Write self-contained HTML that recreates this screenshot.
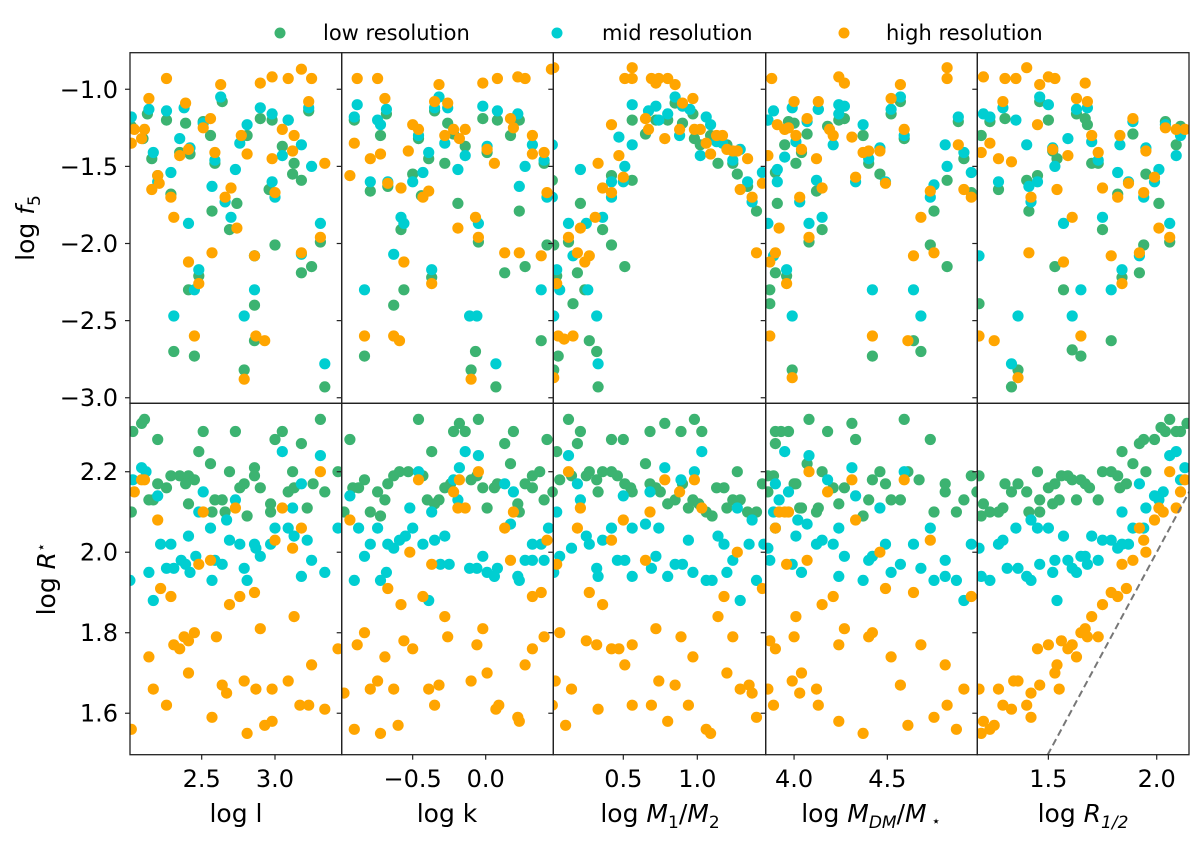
<!DOCTYPE html>
<html><head><meta charset="utf-8"><style>
html,body{margin:0;padding:0;background:#fff;}
svg{display:block;font-family:"DejaVu Sans","Liberation Sans",sans-serif;}
</style></head><body>
<svg id="fig" width="1200" height="842" viewBox="0 0 1200 842">
<g>
 <circle cx="280" cy="33" r="5.5" fill="#3cb371"/>
 <text x="323" y="40" font-size="21">low resolution</text>
 <circle cx="557" cy="33" r="5.5" fill="#00ced1"/>
 <text x="602" y="40" font-size="21">mid resolution</text>
 <circle cx="844" cy="33" r="5.5" fill="#ffa500"/>
 <text x="886" y="40" font-size="21">high resolution</text>
</g>
<text transform="translate(34,228) rotate(-90)" text-anchor="middle" font-size="25">log <tspan font-style="italic">f</tspan><tspan font-size="17" dy="6">5</tspan></text>
<text transform="translate(55,579) rotate(-90)" text-anchor="middle" font-size="25">log <tspan font-style="italic">R</tspan><tspan font-size="15" dy="-9">⋆</tspan></text>
<g id="plots"></g>
</svg>
<script>
// ---------- data (data units) ----------
const TOP_Y_TICKS = [-1.0, -1.5, -2.0, -2.5, -3.0];
const TOP_Y_LABELS = ["−1.0", "−1.5", "−2.0", "−2.5", "−3.0"];
const BOT_Y_TICKS = [1.6, 1.8, 2.0, 2.2];
const BOT_Y_LABELS = ["1.6", "1.8", "2.0", "2.2"];
const X_TICKS_1 = [2.5, 3.0];
const X_TICKS_2 = [-0.5, 0.0];
const X_TICKS_3 = [0.5, 1.0];
const X_TICKS_4 = [4.0, 4.5];
const X_TICKS_5 = [1.5, 2.0];
const X_TICK_LABELS_1 = ["2.5", "3.0"];
const X_TICK_LABELS_2 = ["−0.5", "0.0"];
const X_TICK_LABELS_3 = ["0.5", "1.0"];
const X_TICK_LABELS_4 = ["4.0", "4.5"];
const X_TICK_LABELS_5 = ["1.5", "2.0"];

const F5_L_LOW = [[2.13,-1.16],[2.26,-1.20],[2.39,-1.22],[2.64,-1.08],[2.51,-1.21],[2.56,-1.30],[2.90,-1.19],[2.98,-1.20],[3.09,-1.20],[3.23,-1.14],[2.81,-1.30],[2.02,-1.24],[2.10,-1.32],[2.16,-1.45],[2.35,-1.41],[2.42,-1.42],[2.59,-1.48],[3.05,-1.37],[3.13,-1.48],[3.12,-1.55],[3.18,-1.59],[2.20,-1.56],[2.29,-1.68],[2.96,-1.65],[2.57,-1.79],[2.69,-1.91],[2.74,-1.74],[3.00,-2.01],[2.41,-2.30],[2.48,-2.21],[2.86,-2.08],[3.18,-2.19],[3.25,-2.15],[3.31,-1.99],[2.31,-2.70],[2.45,-2.73],[2.86,-2.40],[2.86,-2.63],[2.79,-2.82],[3.34,-2.93]];
const F5_L_MID = [[2.14,-1.13],[2.26,-1.14],[2.38,-1.12],[2.63,-1.05],[2.90,-1.12],[2.98,-1.16],[3.09,-1.20],[3.23,-1.12],[2.81,-1.23],[2.51,-1.22],[2.02,-1.18],[2.17,-1.41],[2.35,-1.32],[2.42,-1.38],[2.59,-1.46],[2.76,-1.35],[3.05,-1.43],[3.18,-1.36],[3.25,-1.50],[2.29,-1.54],[2.20,-1.60],[2.57,-1.63],[2.73,-1.52],[2.98,-1.60],[3.00,-1.70],[2.66,-1.73],[2.70,-1.83],[2.41,-1.87],[2.48,-2.17],[2.45,-2.30],[2.86,-2.08],[3.18,-2.07],[3.31,-1.87],[2.31,-2.47],[2.86,-2.30],[2.79,-2.47],[3.34,-2.78]];
const F5_L_HIGH = [[2.26,-0.93],[2.14,-1.06],[2.39,-1.09],[2.63,-0.97],[2.90,-0.96],[2.98,-0.92],[3.09,-0.93],[3.18,-0.87],[3.25,-0.93],[3.23,-1.08],[2.56,-1.19],[2.51,-1.25],[2.04,-1.26],[2.11,-1.26],[2.09,-1.32],[2.02,-1.35],[2.77,-1.30],[2.81,-1.42],[2.35,-1.43],[2.41,-1.39],[2.59,-1.41],[2.98,-1.45],[3.05,-1.26],[3.13,-1.30],[3.12,-1.40],[3.34,-1.48],[2.20,-1.56],[2.21,-1.61],[2.16,-1.65],[2.29,-1.70],[2.70,-1.64],[2.66,-1.70],[3.00,-1.67],[2.31,-1.83],[2.74,-1.90],[2.57,-2.06],[2.41,-2.12],[2.48,-2.26],[2.86,-2.08],[3.18,-2.06],[3.31,-1.96],[2.45,-2.60],[2.87,-2.60],[2.93,-2.63],[2.79,-2.88]];

const F5_K_LOW = [[-0.90,-1.20],[-0.68,-1.16],[-0.72,-1.30],[-0.35,-1.14],[-0.26,-1.22],[-0.22,-1.29],[-0.14,-1.37],[-0.02,-1.19],[0.08,-1.20],[0.17,-1.30],[0.23,-1.20],[0.01,-1.41],[-0.39,-1.45],[-0.46,-1.32],[-0.50,-1.55],[-0.28,-1.48],[-0.79,-1.66],[-0.67,-1.63],[-0.44,-1.69],[-0.19,-1.74],[0.23,-1.79],[0.40,-1.48],[0.42,-2.01],[-0.05,-1.99],[-0.58,-1.91],[-0.56,-2.30],[-0.63,-2.40],[-0.37,-2.22],[0.13,-2.19],[0.27,-2.15],[-0.83,-2.73],[-0.07,-2.70],[-0.10,-2.82],[0.07,-2.93],[0.38,-2.63]];
const F5_K_MID = [[-0.88,-1.10],[-0.90,-1.18],[-0.74,-1.20],[-0.72,-1.23],[-0.68,-1.13],[-0.32,-1.05],[-0.35,-1.12],[-0.26,-1.12],[-0.02,-1.11],[0.08,-1.14],[0.22,-1.16],[0.01,-1.37],[-0.39,-1.41],[-0.46,-1.30],[-0.28,-1.35],[-0.14,-1.43],[0.32,-1.36],[0.27,-1.50],[0.23,-1.63],[0.40,-1.46],[-0.79,-1.60],[-0.67,-1.60],[-0.50,-1.60],[-0.43,-1.54],[-0.19,-1.52],[0.42,-1.70],[-0.58,-1.83],[-0.56,-1.87],[-0.05,-1.87],[-0.63,-2.07],[-0.37,-2.17],[-0.83,-2.30],[0.38,-2.30],[-0.11,-2.47],[-0.06,-2.47],[0.07,-2.78]];
const F5_K_HIGH = [[-0.88,-0.93],[-0.74,-0.93],[-0.69,-1.06],[-0.32,-0.97],[-0.02,-0.96],[0.08,-0.93],[0.22,-0.92],[0.27,-0.93],[-0.35,-1.08],[-0.26,-1.09],[-0.90,-1.35],[-0.79,-1.45],[-0.72,-1.42],[-0.50,-1.23],[-0.46,-1.26],[-0.28,-1.30],[-0.22,-1.26],[-0.18,-1.32],[-0.14,-1.26],[0.17,-1.19],[0.19,-1.25],[0.32,-1.30],[0.32,-1.42],[0.06,-1.48],[0.01,-1.39],[0.40,-1.41],[-0.53,-1.40],[-0.93,-1.56],[-0.67,-1.61],[-0.58,-1.64],[-0.39,-1.66],[-0.43,-1.70],[-0.07,-1.83],[-0.19,-1.90],[-0.05,-1.96],[0.13,-2.06],[0.23,-2.06],[0.38,-2.08],[0.42,-1.67],[-0.56,-2.12],[-0.37,-2.26],[-0.83,-2.60],[-0.63,-2.60],[-0.59,-2.63],[-0.10,-2.88],[0.45,-0.87]];

const F5_M_LOW = [[0.56,-1.20],[0.65,-1.29],[0.72,-1.20],[0.80,-1.20],[0.85,-1.09],[0.90,-1.22],[0.97,-1.16],[0.98,-1.32],[1.02,-1.36],[1.09,-1.30],[1.14,-1.48],[1.20,-1.36],[1.24,-1.48],[1.27,-1.55],[1.34,-1.63],[1.40,-1.79],[0.56,-1.59],[0.42,-1.56],[0.21,-1.74],[0.13,-1.99],[0.19,-2.19],[0.24,-2.30],[0.36,-1.91],[0.42,-2.01],[0.51,-2.15],[0.16,-2.39],[0.06,-2.73],[0.27,-2.63],[0.32,-2.70],[0.33,-2.93],[0.03,-2.82],[0.03,-2.01],[0.02,-1.59],[0.05,-2.21]];
const F5_M_MID = [[0.56,-1.10],[0.56,-1.36],[0.47,-1.31],[0.51,-1.50],[0.50,-1.60],[0.42,-1.60],[0.42,-1.70],[0.67,-1.14],[0.72,-1.11],[0.74,-1.20],[0.80,-1.16],[0.85,-1.05],[0.90,-1.11],[0.95,-1.13],[0.88,-1.30],[1.02,-1.43],[1.06,-1.18],[1.09,-1.23],[1.13,-1.34],[1.17,-1.35],[1.24,-1.46],[1.29,-1.39],[1.34,-1.60],[1.37,-1.73],[1.44,-1.54],[0.21,-1.52],[0.13,-1.87],[0.16,-2.08],[0.25,-1.87],[0.36,-1.83],[0.26,-2.30],[0.05,-2.17],[0.07,-2.30],[0.32,-2.47],[0.33,-2.78],[0.03,-2.47],[0.02,-1.36],[0.02,-1.70]];
const F5_M_HIGH = [[0.56,-0.86],[0.51,-0.93],[0.56,-0.93],[0.69,-0.93],[0.72,-0.96],[0.74,-0.93],[0.80,-0.93],[0.85,-0.97],[0.90,-1.09],[0.97,-1.06],[0.65,-1.19],[0.67,-1.26],[0.78,-1.32],[0.88,-1.26],[0.98,-1.26],[1.02,-1.26],[1.06,-1.35],[1.09,-1.42],[1.13,-1.30],[1.17,-1.30],[1.20,-1.39],[1.24,-1.40],[1.27,-1.40],[1.34,-1.45],[0.42,-1.23],[0.47,-1.43],[0.50,-1.57],[0.33,-1.48],[0.36,-1.64],[0.42,-1.67],[0.31,-1.83],[0.21,-1.90],[0.13,-1.96],[0.19,-2.06],[0.24,-2.12],[0.27,-2.08],[0.05,-2.26],[0.06,-2.60],[0.10,-2.62],[0.16,-2.60],[0.03,-2.87],[1.29,-1.65],[1.37,-1.70],[1.44,-1.61],[1.40,-2.06],[0.03,-0.86]];

const F5_D_LOW = [[3.86,-1.20],[3.97,-1.21],[4.00,-1.22],[4.07,-1.29],[4.13,-1.13],[4.18,-1.24],[4.24,-1.20],[4.27,-1.19],[4.37,-1.30],[4.52,-1.16],[4.57,-1.08],[4.59,-1.32],[3.95,-1.36],[4.01,-1.48],[4.04,-1.41],[4.40,-1.48],[4.46,-1.55],[4.12,-1.66],[3.91,-1.74],[3.90,-1.54],[4.15,-1.91],[4.08,-1.99],[3.90,-2.19],[3.96,-2.21],[3.87,-2.30],[3.87,-2.39],[3.99,-2.82],[4.42,-2.73],[4.64,-2.63],[4.68,-2.70],[4.73,-2.01],[4.75,-1.79],[4.82,-2.15],[4.82,-1.59],[4.88,-1.21],[4.91,-1.45],[4.95,-1.67]];
const F5_D_MID = [[3.89,-1.14],[3.86,-1.20],[3.99,-1.12],[4.07,-1.21],[4.13,-1.13],[4.24,-1.10],[4.27,-1.11],[4.24,-1.16],[4.37,-1.23],[4.52,-1.13],[4.57,-1.05],[4.59,-1.30],[3.95,-1.44],[4.01,-1.34],[4.21,-1.36],[3.91,-1.52],[3.91,-1.60],[4.12,-1.59],[4.03,-1.73],[4.08,-1.87],[4.15,-1.83],[4.33,-1.60],[4.40,-1.45],[4.46,-1.38],[4.49,-1.60],[3.86,-1.87],[3.89,-2.08],[3.96,-2.17],[3.99,-2.47],[4.42,-2.30],[4.64,-2.30],[4.68,-2.47],[4.73,-1.70],[4.75,-1.62],[4.82,-1.50],[4.81,-1.36],[4.88,-1.18],[4.91,-1.41],[4.95,-1.54]];
const F5_D_HIGH = [[3.88,-0.93],[4.24,-0.92],[4.27,-0.96],[4.57,-0.97],[4.82,-0.86],[4.82,-0.93],[4.00,-1.08],[4.13,-1.08],[4.52,-1.06],[3.91,-1.23],[3.95,-1.26],[3.97,-1.25],[4.01,-1.30],[4.04,-1.39],[4.07,-1.19],[4.12,-1.45],[4.19,-1.26],[4.21,-1.30],[4.31,-1.31],[4.37,-1.41],[4.40,-1.40],[4.46,-1.40],[4.59,-1.26],[3.86,-1.43],[4.33,-1.57],[4.49,-1.61],[4.03,-1.70],[4.15,-1.64],[3.92,-1.90],[4.08,-1.96],[3.90,-2.06],[3.87,-2.12],[3.96,-2.26],[4.68,-1.83],[4.73,-1.66],[4.75,-2.06],[4.64,-2.08],[4.88,-1.36],[4.91,-1.65],[4.95,-1.70],[3.87,-2.60],[4.42,-2.60],[4.61,-2.63],[3.99,-2.87]];

const F5_R_LOW = [[1.19,-1.30],[1.23,-1.21],[1.30,-1.19],[1.46,-1.08],[1.50,-1.20],[1.63,-1.16],[1.67,-1.19],[1.68,-1.23],[1.70,-1.48],[1.73,-1.48],[1.52,-1.40],[1.54,-1.45],[1.40,-1.59],[1.45,-1.56],[1.27,-1.65],[1.41,-1.79],[1.75,-1.91],[1.82,-1.68],[1.84,-2.22],[1.89,-1.29],[1.92,-2.19],[1.94,-2.01],[1.95,-1.55],[2.01,-1.74],[2.04,-1.21],[2.06,-1.99],[2.09,-1.36],[2.11,-1.24],[1.53,-2.15],[1.57,-2.30],[1.61,-2.69],[1.65,-2.73],[1.79,-2.63],[1.36,-2.82],[1.33,-2.93],[1.18,-2.39]];
const F5_R_MID = [[1.20,-1.16],[1.23,-1.18],[1.29,-1.12],[1.35,-1.20],[1.46,-1.05],[1.50,-1.10],[1.63,-1.13],[1.68,-1.12],[1.40,-1.36],[1.52,-1.38],[1.53,-1.50],[1.59,-1.32],[1.70,-1.34],[1.73,-1.46],[1.83,-1.36],[1.89,-1.21],[1.95,-1.38],[2.04,-1.23],[2.09,-1.43],[2.11,-1.30],[1.27,-1.60],[1.41,-1.63],[1.42,-1.73],[1.45,-1.60],[1.75,-1.83],[1.82,-1.54],[1.87,-1.60],[1.94,-1.70],[1.99,-1.60],[2.01,-1.52],[2.06,-1.87],[1.57,-1.87],[1.84,-2.17],[1.92,-2.08],[1.18,-2.08],[1.36,-2.47],[1.61,-2.47],[1.65,-2.30],[1.79,-2.30],[1.33,-2.78]];
const F5_R_HIGH = [[1.20,-0.92],[1.30,-0.93],[1.35,-0.93],[1.40,-0.86],[1.46,-0.97],[1.50,-0.92],[1.53,-0.93],[1.67,-0.96],[1.29,-1.08],[1.63,-1.06],[1.68,-1.08],[1.45,-1.23],[1.23,-1.35],[1.19,-1.41],[1.27,-1.45],[1.33,-1.47],[1.52,-1.39],[1.59,-1.43],[1.70,-1.30],[1.73,-1.41],[1.83,-1.30],[1.89,-1.19],[1.95,-1.40],[2.04,-1.25],[2.09,-1.26],[2.13,-1.26],[1.54,-1.65],[1.42,-1.70],[1.75,-1.64],[1.82,-1.70],[1.87,-1.61],[1.94,-1.67],[1.99,-1.57],[1.61,-1.83],[2.01,-1.90],[2.06,-1.96],[1.41,-2.06],[1.57,-2.12],[1.79,-2.08],[1.92,-2.06],[1.84,-2.26],[1.18,-2.60],[1.25,-2.63],[1.65,-2.60],[1.36,-2.87]];

const R_L_LOW = [[2.03,2.30],[2.09,2.32],[2.11,2.33],[2.20,2.28],[2.51,2.30],[2.73,2.30],[2.48,2.25],[2.56,2.22],[2.69,2.20],[3.00,2.28],[3.05,2.30],[3.18,2.27],[3.31,2.33],[3.12,2.20],[2.86,2.21],[2.86,2.19],[2.20,2.17],[2.26,2.16],[2.29,2.19],[2.35,2.19],[2.41,2.19],[2.45,2.18],[2.39,2.17],[2.14,2.13],[2.17,2.13],[2.41,2.12],[2.59,2.13],[2.64,2.13],[2.57,2.10],[2.66,2.10],[2.76,2.16],[2.79,2.17],[2.90,2.16],[2.81,2.09],[2.97,2.12],[2.97,2.10],[3.09,2.15],[3.13,2.16],[3.26,2.17],[3.34,2.15],[3.22,2.11],[2.02,2.10],[3.43,2.20]];
const R_L_MID = [[2.03,2.18],[2.09,2.21],[2.12,2.20],[2.20,2.14],[2.51,2.15],[2.73,2.13],[2.48,2.10],[2.67,2.08],[2.56,2.06],[2.41,2.04],[2.22,2.02],[2.29,2.02],[2.46,1.99],[2.36,1.98],[2.39,1.97],[2.42,1.95],[2.26,1.96],[2.31,1.96],[2.14,1.95],[2.17,1.88],[2.01,1.93],[2.57,1.93],[2.59,1.98],[2.64,1.97],[2.69,2.03],[2.76,2.02],[2.79,1.96],[2.81,1.93],[2.86,2.02],[2.87,2.01],[2.90,1.99],[2.97,2.02],[3.00,2.06],[3.09,2.06],[3.13,2.04],[3.12,2.11],[3.18,2.17],[3.22,2.03],[3.25,1.98],[3.18,1.94],[3.34,1.95],[3.05,2.25],[3.31,2.24],[3.43,2.06]];
const R_L_HIGH = [[2.04,2.15],[2.09,2.18],[2.11,2.18],[2.20,2.08],[2.51,2.10],[2.73,2.11],[2.48,1.97],[2.56,1.98],[3.00,2.03],[3.05,2.11],[3.18,2.06],[3.12,2.01],[3.31,2.20],[2.22,1.91],[2.29,1.89],[2.69,1.87],[2.76,1.89],[2.86,1.90],[2.45,1.80],[2.38,1.79],[2.41,1.78],[2.31,1.77],[2.35,1.76],[2.60,1.79],[2.90,1.81],[3.13,1.84],[2.14,1.74],[2.41,1.70],[2.17,1.66],[2.26,1.62],[2.57,1.59],[2.64,1.67],[2.67,1.65],[2.79,1.68],[2.87,1.66],[2.98,1.66],[3.09,1.68],[3.17,1.62],[3.23,1.62],[3.34,1.61],[3.25,1.72],[3.43,1.76],[2.02,1.56],[2.81,1.55],[2.93,1.57],[2.98,1.58]];

const R_K_LOW = [[-0.93,2.28],[-0.46,2.33],[-0.22,2.30],[-0.18,2.32],[-0.14,2.30],[-0.05,2.33],[0.19,2.30],[-0.37,2.25],[0.13,2.27],[0.17,2.22],[0.42,2.28],[0.37,2.20],[0.32,2.19],[-0.91,2.16],[-0.87,2.16],[-0.83,2.18],[-0.74,2.15],[-0.69,2.13],[-0.67,2.17],[-0.63,2.19],[-0.59,2.20],[-0.53,2.20],[-0.43,2.19],[-0.40,2.13],[-0.32,2.13],[-0.35,2.12],[-0.28,2.16],[-0.24,2.17],[-0.10,2.18],[-0.06,2.19],[-0.02,2.16],[0.06,2.16],[0.08,2.17],[0.01,2.11],[0.22,2.12],[0.23,2.10],[0.27,2.17],[0.32,2.16],[0.40,2.13],[-0.79,2.10],[-0.72,2.09],[-0.97,2.10],[0.46,2.15]];
const R_K_MID = [[-0.93,2.14],[-0.87,2.06],[-0.83,1.99],[-0.90,1.93],[-0.79,2.02],[-0.74,2.06],[-0.67,2.02],[-0.63,2.01],[-0.59,2.03],[-0.55,2.04],[-0.50,2.06],[-0.52,2.11],[-0.46,2.20],[-0.43,2.02],[-0.37,2.10],[-0.35,2.03],[-0.28,2.04],[-0.31,1.97],[-0.25,1.97],[-0.22,2.18],[-0.19,2.13],[-0.18,2.21],[-0.14,2.25],[-0.05,2.24],[-0.11,1.96],[-0.06,1.96],[-0.02,1.99],[0.01,1.95],[0.06,1.94],[0.08,1.96],[0.13,2.17],[0.19,2.15],[0.17,2.07],[0.22,1.94],[0.23,1.93],[0.27,1.98],[0.32,1.98],[0.32,2.02],[0.38,2.02],[0.40,1.98],[0.43,2.06],[-0.72,1.93],[-0.68,1.95],[-0.39,1.88]];
const R_K_HIGH = [[-0.93,2.08],[-0.46,2.18],[-0.22,2.15],[-0.18,2.18],[-0.19,2.11],[-0.14,2.11],[-0.05,2.20],[0.19,2.10],[0.13,2.06],[0.17,1.98],[0.42,2.03],[-0.52,2.00],[-0.37,1.97],[-0.67,1.91],[-0.58,1.87],[-0.43,1.89],[0.32,1.89],[0.38,1.90],[-0.28,1.84],[-0.02,1.81],[-0.83,1.80],[-0.88,1.77],[-0.56,1.78],[-0.50,1.76],[-0.26,1.79],[-0.06,1.77],[-0.69,1.74],[0.32,1.76],[0.27,1.72],[0.40,1.79],[-0.74,1.68],[-0.79,1.66],[-0.63,1.66],[-0.39,1.66],[-0.32,1.67],[-0.10,1.68],[0.01,1.70],[-0.35,1.62],[0.07,1.61],[0.09,1.62],[0.22,1.59],[0.23,1.58],[-0.90,1.56],[-0.72,1.55],[-0.60,1.57],[-0.97,1.65]];

const R_M_LOW = [[0.13,2.33],[0.21,2.30],[0.19,2.27],[0.05,2.25],[0.42,2.28],[0.50,2.28],[0.68,2.30],[0.78,2.32],[0.89,2.30],[0.98,2.33],[1.03,2.30],[0.65,2.22],[1.27,2.20],[0.07,2.18],[0.15,2.19],[0.25,2.19],[0.27,2.20],[0.36,2.20],[0.42,2.20],[0.46,2.19],[0.32,2.18],[0.33,2.15],[0.51,2.17],[0.55,2.16],[0.56,2.15],[0.68,2.17],[0.72,2.16],[0.75,2.15],[0.80,2.12],[0.85,2.13],[0.90,2.17],[0.97,2.13],[0.94,2.11],[1.01,2.12],[1.06,2.10],[1.10,2.09],[1.13,2.16],[1.18,2.16],[1.20,2.11],[1.24,2.13],[1.29,2.13],[1.34,2.10],[1.40,2.10],[1.44,2.17],[0.02,2.15]];
const R_M_MID = [[0.13,2.24],[0.19,2.17],[0.21,2.13],[0.05,2.10],[0.15,2.01],[0.07,1.99],[0.25,2.04],[0.27,2.02],[0.36,2.03],[0.42,2.06],[0.50,2.14],[0.56,2.06],[0.65,2.07],[0.74,2.06],[0.68,2.15],[0.78,2.21],[0.89,2.18],[0.98,2.20],[1.03,2.25],[0.94,2.03],[1.14,2.04],[1.18,2.02],[1.27,2.11],[1.37,2.08],[1.35,2.02],[1.45,2.02],[0.46,1.98],[0.51,1.98],[0.32,1.96],[0.33,1.94],[0.56,1.94],[0.69,1.96],[0.72,1.99],[0.80,1.94],[0.85,1.97],[0.90,1.97],[0.97,1.95],[1.06,1.93],[1.10,1.93],[1.20,1.95],[1.24,1.98],[1.29,1.88],[1.40,1.93],[0.03,1.95]];
const R_M_HIGH = [[0.13,2.20],[0.21,2.11],[0.19,2.06],[0.42,2.03],[0.50,2.08],[0.65,1.98],[0.68,2.10],[0.78,2.18],[0.88,2.15],[0.98,2.18],[1.03,2.11],[1.27,2.00],[0.05,1.97],[0.27,1.90],[0.36,1.87],[1.18,1.89],[1.14,1.84],[1.44,1.91],[0.72,1.81],[0.07,1.80],[0.25,1.78],[0.32,1.77],[0.42,1.76],[0.47,1.76],[0.56,1.77],[0.51,1.72],[0.89,1.79],[0.97,1.74],[1.24,1.79],[0.04,1.68],[0.15,1.66],[0.74,1.68],[0.85,1.67],[1.20,1.70],[1.29,1.66],[1.35,1.67],[1.37,1.65],[0.02,1.62],[0.33,1.61],[0.56,1.62],[0.69,1.62],[0.94,1.62],[0.11,1.57],[0.80,1.58],[1.06,1.56],[1.09,1.55],[1.40,1.59]];

const R_D_LOW = [[3.90,2.30],[3.93,2.30],[3.97,2.30],[4.08,2.33],[4.18,2.30],[4.31,2.32],[4.33,2.28],[4.59,2.33],[4.73,2.28],[3.90,2.27],[4.07,2.22],[4.15,2.20],[3.89,2.19],[3.86,2.19],[4.01,2.17],[4.00,2.17],[4.21,2.16],[4.27,2.16],[4.42,2.18],[4.46,2.20],[4.49,2.17],[4.61,2.20],[4.67,2.18],[4.81,2.17],[4.81,2.15],[4.95,2.19],[3.86,2.15],[4.03,2.11],[4.04,2.11],[4.12,2.10],[4.13,2.11],[4.24,2.12],[4.40,2.13],[4.52,2.13],[4.57,2.13],[4.37,2.09],[4.75,2.10],[4.87,2.10],[4.91,2.13],[4.98,2.15]];
const R_D_MID = [[3.95,2.25],[4.08,2.24],[3.90,2.17],[3.97,2.15],[3.92,2.13],[3.89,2.10],[3.90,2.06],[3.86,2.01],[4.02,2.08],[4.07,2.07],[4.01,2.04],[4.12,2.02],[4.15,2.03],[4.21,2.02],[4.24,2.06],[4.18,2.18],[4.31,2.21],[4.33,2.14],[4.46,2.11],[4.59,2.20],[4.49,2.02],[4.64,2.02],[4.73,2.06],[4.40,1.98],[4.42,1.99],[4.52,1.95],[4.57,1.97],[4.68,1.96],[4.75,1.93],[4.81,1.98],[4.81,1.94],[4.87,1.93],[4.91,1.88],[4.95,2.02],[3.87,1.98],[3.99,1.97],[4.04,1.95],[4.24,1.94],[4.27,1.99],[4.37,1.93]];
const R_D_HIGH = [[4.08,2.20],[4.31,2.18],[4.18,2.15],[4.59,2.18],[3.92,2.10],[3.95,2.10],[3.97,2.10],[3.90,2.06],[4.33,2.08],[4.73,2.03],[4.46,2.00],[3.96,1.97],[4.07,1.98],[4.49,1.91],[4.64,1.90],[4.95,1.89],[4.15,1.87],[4.21,1.89],[4.01,1.84],[4.27,1.81],[4.00,1.79],[3.87,1.78],[3.90,1.76],[4.24,1.77],[4.40,1.79],[4.42,1.80],[4.68,1.77],[4.52,1.74],[4.81,1.72],[4.04,1.70],[3.99,1.68],[4.03,1.65],[4.12,1.66],[4.57,1.67],[4.91,1.66],[3.89,1.62],[4.13,1.62],[4.82,1.62],[3.86,1.66],[4.24,1.58],[4.37,1.55],[4.61,1.57],[4.75,1.59],[4.87,1.56]];

const R_R_LOW = [[2.06,2.33],[2.02,2.31],[2.04,2.30],[2.09,2.30],[2.11,2.30],[2.14,2.32],[1.99,2.28],[1.94,2.28],[1.92,2.27],[1.84,2.25],[1.89,2.22],[1.95,2.20],[1.75,2.20],[1.79,2.20],[1.82,2.19],[1.83,2.16],[1.86,2.17],[1.73,2.13],[1.45,2.20],[1.56,2.19],[1.59,2.19],[1.61,2.18],[1.65,2.18],[1.67,2.17],[1.69,2.16],[1.63,2.13],[1.53,2.17],[1.50,2.16],[1.46,2.13],[1.52,2.12],[1.55,2.13],[1.30,2.17],[1.33,2.15],[1.36,2.17],[1.40,2.15],[1.20,2.12],[1.19,2.09],[1.23,2.10],[1.27,2.10],[1.29,2.11],[1.41,2.10],[1.46,2.10],[1.18,2.19]];
const R_R_MID = [[2.06,2.24],[2.09,2.25],[2.13,2.21],[2.11,2.18],[2.03,2.15],[1.99,2.14],[2.01,2.13],[1.95,2.11],[1.92,2.17],[1.84,2.10],[1.89,2.06],[1.94,2.06],[1.70,2.04],[1.75,2.03],[1.79,2.03],[1.82,2.01],[1.84,2.02],[1.87,2.02],[1.42,2.08],[1.45,2.06],[1.50,2.06],[1.57,2.04],[1.35,2.06],[1.29,2.03],[1.27,2.02],[1.18,2.01],[1.31,1.96],[1.36,1.96],[1.40,1.94],[1.42,1.93],[1.46,1.97],[1.52,1.95],[1.53,1.98],[1.59,1.98],[1.61,1.96],[1.63,1.95],[1.65,1.99],[1.67,1.99],[1.68,1.97],[1.73,1.98],[1.19,1.94],[1.23,1.93],[1.54,1.88]];
const R_R_HIGH = [[2.06,2.20],[2.11,2.15],[2.13,2.18],[2.09,2.11],[2.01,2.11],[2.03,2.10],[1.99,2.08],[1.92,2.06],[1.94,2.03],[1.95,2.00],[1.84,1.97],[1.89,1.98],[1.86,1.91],[1.79,1.90],[1.82,1.89],[1.75,1.87],[1.70,1.84],[1.67,1.81],[1.65,1.80],[1.68,1.79],[1.73,1.79],[1.61,1.77],[1.59,1.76],[1.63,1.74],[1.56,1.78],[1.50,1.77],[1.45,1.76],[1.54,1.72],[1.53,1.70],[1.55,1.66],[1.46,1.67],[1.42,1.65],[1.34,1.68],[1.36,1.68],[1.27,1.66],[1.18,1.66],[1.29,1.62],[1.33,1.61],[1.40,1.62],[1.42,1.59],[1.20,1.58],[1.25,1.57],[1.23,1.56],[1.19,1.55]];

const ONE_TO_ONE = [1.4, 2.3];

// ---------- layout ----------
const COLORS = {low: "#3cb371", mid: "#00ced1", high: "#ffa500"};
const PANEL_X = [[130,341.7],[341.7,553.3],[553.3,765.7],[765.7,977.3],[977.3,1189]];
const X_DOMAINS = [[2.011,3.455],[-0.986,0.463],[0.027,1.462],[3.848,4.982],[1.172,2.149]];
const ROW_Y = [[52.7,403.3],[403.3,754.7]];
const Y_DOMAINS = [[-0.763,-3.036],[2.370,1.497]];
const X_TICKS = [X_TICKS_1,X_TICKS_2,X_TICKS_3,X_TICKS_4,X_TICKS_5];
const X_TICK_LABELS = [X_TICK_LABELS_1,X_TICK_LABELS_2,X_TICK_LABELS_3,X_TICK_LABELS_4,X_TICK_LABELS_5];
const PANEL_NAMES = ["l","k","m1-m2","mdm-mstar","r-half"];
const TOP_SERIES = [[F5_L_LOW,F5_L_MID,F5_L_HIGH],[F5_K_LOW,F5_K_MID,F5_K_HIGH],[F5_M_LOW,F5_M_MID,F5_M_HIGH],[F5_D_LOW,F5_D_MID,F5_D_HIGH],[F5_R_LOW,F5_R_MID,F5_R_HIGH]];
const BOT_SERIES = [[R_L_LOW,R_L_MID,R_L_HIGH],[R_K_LOW,R_K_MID,R_K_HIGH],[R_M_LOW,R_M_MID,R_M_HIGH],[R_D_LOW,R_D_MID,R_D_HIGH],[R_R_LOW,R_R_MID,R_R_HIGH]];

const NS = "http://www.w3.org/2000/svg";
const root = document.getElementById("plots");
function mk(tag, attrs, parent) {
  const e = document.createElementNS(NS, tag);
  for (const k in attrs) e.setAttribute(k, attrs[k]);
  (parent || root).appendChild(e);
  return e;
}
function xScale(p, v) { const [a,b]=PANEL_X[p], [d0,d1]=X_DOMAINS[p]; return a + (v-d0)/(d1-d0)*(b-a); }
function yScale(r, v) { const [a,b]=ROW_Y[r], [d0,d1]=Y_DOMAINS[r]; return a + (v-d0)/(d1-d0)*(b-a); }

const defs = mk("defs", {});
for (let r = 0; r < 2; r++) {
  for (let p = 0; p < 5; p++) {
    const cp = mk("clipPath", {id: "clip-" + r + "-" + p}, defs);
    mk("rect", {x: PANEL_X[p][0], y: ROW_Y[r][0], width: PANEL_X[p][1]-PANEL_X[p][0], height: ROW_Y[r][1]-ROW_Y[r][0]}, cp);
  }
}

const levels = ["low","mid","high"];
for (let r = 0; r < 2; r++) {
  const series = r === 0 ? TOP_SERIES : BOT_SERIES;
  for (let p = 0; p < 5; p++) {
    const g = mk("g", {"clip-path": "url(#clip-" + r + "-" + p + ")"});
    
    
    for (let s = 0; s < 3; s++) {
      const sg = mk("g", {fill: COLORS[levels[s]]}, g);
      
      
      for (const pt of series[p][s]) {
        const c = mk("circle", {cx: xScale(p, pt[0]).toFixed(1), cy: yScale(r, pt[1]).toFixed(1), r: 5.6}, sg);
        
        
      }
    }
    if (r === 1 && p === 4) {
      const ln = mk("line", {x1: xScale(4, ONE_TO_ONE[0]), y1: yScale(1, ONE_TO_ONE[0]), x2: xScale(4, ONE_TO_ONE[1]), y2: yScale(1, ONE_TO_ONE[1]), stroke: "#777", "stroke-width": 2, "stroke-dasharray": "7,4"}, g);
      
      
    }
  }
}

// frames and ticks
for (let r = 0; r < 2; r++) {
  for (let p = 0; p < 5; p++) {
    const fr = mk("rect", {x: PANEL_X[p][0], y: ROW_Y[r][0], width: PANEL_X[p][1]-PANEL_X[p][0], height: ROW_Y[r][1]-ROW_Y[r][0], fill: "none", stroke: "#222", "stroke-width": 1.3});
    
    
    const ticks = r === 0 ? TOP_Y_TICKS : BOT_Y_TICKS;
    const labels = r === 0 ? TOP_Y_LABELS : BOT_Y_LABELS;
    ticks.forEach((t, i) => {
      const y = yScale(r, t);
      const tk = mk("line", {x1: PANEL_X[p][0]-5, x2: PANEL_X[p][0], y1: y, y2: y, stroke: "#222", "stroke-width": 1.2});
      
      
      if (p === 0) {
        const tl = mk("text", {x: 118, y: y + 8.5, "text-anchor": "end", "font-size": 24});
        tl.textContent = labels[i];
        
        
      }
    });
  }
}
const XLABELS = [["log l"],["log k"],["M1"],["MDM"],["R"]];
for (let p = 0; p < 5; p++) {
  X_TICKS[p].forEach((t, i) => {
    const x = xScale(p, t);
    const tk = mk("line", {x1: x, x2: x, y1: 754.7, y2: 759.7, stroke: "#222", "stroke-width": 1.2});
    
    
    const tl = mk("text", {x: x, y: 787, "text-anchor": "middle", "font-size": 24});
    tl.textContent = X_TICK_LABELS[p][i];
    
    
  });
}
</script>
<g></g>
<svg width="0" height="0"></svg>
<script>
(function(){
  const svg = document.getElementById("fig");
  const NS = "http://www.w3.org/2000/svg";
  const specs = [
    [236, '<tspan>log l</tspan>', 'x-axis-title-l'],
    [447, '<tspan>log k</tspan>', 'x-axis-title-k'],
    [660, 'log <tspan font-style="italic">M</tspan><tspan font-size="17" dy="6">1</tspan><tspan dy="-6">/</tspan><tspan font-style="italic">M</tspan><tspan font-size="17" dy="6">2</tspan>', 'x-axis-title-mass-ratio'],
    [871, 'log <tspan font-style="italic">M</tspan><tspan font-size="17" font-style="italic" dy="6">DM</tspan><tspan dy="-6">/</tspan><tspan font-style="italic">M</tspan><tspan font-size="15" dy="4"> ⋆</tspan>', 'x-axis-title-dm-ratio'],
    [1083, 'log <tspan font-style="italic">R</tspan><tspan font-size="17" font-style="italic" dy="6">1/2</tspan>', 'x-axis-title-r-half']
  ];
  specs.forEach(s => {
    const t = document.createElementNS(NS, "text");
    t.setAttribute("x", s[0]); t.setAttribute("y", 822);
    t.setAttribute("text-anchor", "middle"); t.setAttribute("font-size", 25);
    t.innerHTML = s[1];
    
    
    svg.appendChild(t);
  });
})();
</script>
</body></html>
